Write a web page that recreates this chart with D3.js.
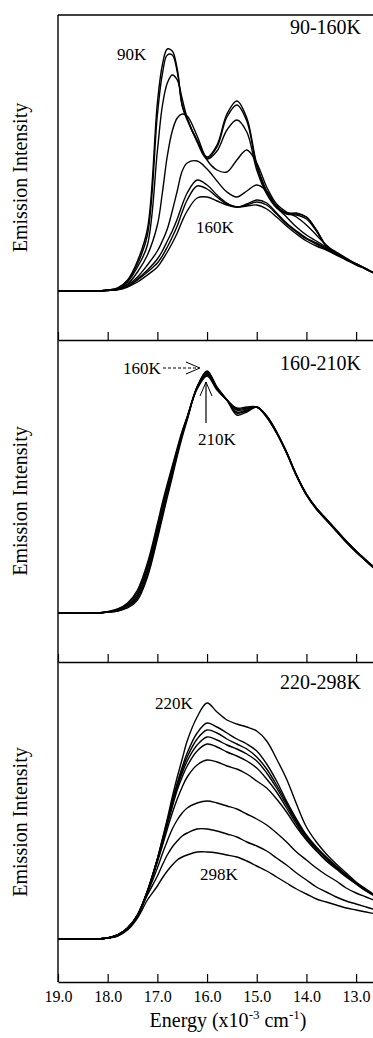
<!DOCTYPE html>
<html>
<head>
<meta charset="utf-8">
<title>Emission spectra vs temperature</title>
<script src="https://d3js.org/d3.v7.min.js"></script>
<style>
  body { margin: 0; background: #fff; }
  text { font-family: "Liberation Serif", "Times New Roman", "DejaVu Serif", serif; fill: #000; }
</style>
</head>
<body>
<div id="chart"></div>
<script>
// energy grid, x10^3 cm^-1
var energy = [19.0, 18.2, 18.0, 17.8, 17.6, 17.4, 17.2, 17.0, 16.9, 16.8, 16.7, 16.6, 16.5, 16.4, 16.2, 16.0,
  15.8, 15.6, 15.4, 15.2, 15.0, 14.8, 14.6, 14.4, 14.2, 14.0, 13.8, 13.6, 13.4, 13.2, 13.0, 12.8, 12.6];
var energyTicks = [19, 18, 17, 16, 15, 14, 13];

// panel 1: 90-160K
var t90  = [0,0,1,3,11,30,62,188,226,242,240,222,186,172,151,134,146,177,190,173,127,100,85,78,78,74,61,45,39,33,27,22,17];
var t100 = [0,0,1,2.5,10,27,56,176,217,236,236,219,185,171,150,133,144,174,186,170,125,99,84,78,77,74,61,45,38,32,27,22,17];
var t110 = [0,0,0.8,2.2,9,24,46,140,185,208,216,211,192,173,149,132,140,161,171,159,121,97,83,77,76,72,60,45,38,32,27,22,17];
var t120 = [0,0,0.7,2,7,19,36,66,98,135,160,173,177,175,155,131,121,119,131,141,128,104,87,79,74,66,56,46,38,32,27,22,17];
var t130 = [0,0,0.6,1.8,6,14,26,40,50,62,80,100,120,128,130,122,110,99,94,100,106,100,84,74,64,56,50,44,38,32,27,22,17];
var t140 = [0,0,0.5,1.5,5,12,21,32,40,50,60,72,86,98,111,106,96,88,84,87,91,88,78,68,60,53,48,43,37,32,27,22,17];
var t150 = [0,0,0.5,1.4,4.5,11,19,28,35,44,54,65,79,91,105,102,94,87,84,86,89,86,77,67,59,52,47,42,37,32,27,22,17];
var t160 = [0,0,0.5,1.2,4,9,16,24,31,39,48,58,70,80,93,94,90,86,84,85,86,82,74,65,57,50,45,41,36,31,26,22,17];

// panel 2: 160-210K
var u160 = [0,0,1,2,5,13,36,74,95,116,136,157,176,193,226,242,226,213,198,201,206,196,180,160,137,118,104,93,82,71,61,52,43];
var u170 = [0,0,1,2,6,15,38,77,98,119,139,159,178,194,226,241,225,213,200,202,206,196,180,160,138,118,104,93,82,71,61,52,43];
var u180 = [0,0,1,2.5,7,17,41,80,101,122,141,161,179,195,226,240,225,213,201,203,206,197,181,161,138,119,105,94,83,72,62,52,44];
var u190 = [0,0,1,3,8,19,44,83,104,124,143,162,180,195,225,239,224,213,203,204,206,197,181,161,138,119,105,94,83,72,62,53,44];
var u200 = [0,0,1.2,3.5,9,21,47,86,107,126,145,163,181,196,225,238,224,213,204,205,206,196,180,160,137,118,104,93,82,71,61,52,43];
var u210 = [0,0,1.5,4,10,23,50,89,110,129,147,165,182,196,224,237,223,213,205,206,206,197,181,161,138,119,105,94,83,72,62,53,44];

// panel 3: 220-298K
var v220 = [0,0,1,4,11,24,48,80,100,120,142,162,180,198,222,236,227,219,215,212,208,198,180,160,135,112,97,85,75,66,57,50,43];
var v230 = [0,0,1,4,11,24,48,80,99,118,138,156,172,186,206,216,212,206,200,195,188,175,158,138,120,104,92,82,73,64,56,49,43];
var v240 = [0,0,1,4,11,24,48,80,98,117,136,154,169,182,200,209,206,200,195,190,182,170,154,136,118,103,91,81,72,64,56,49,43];
var v250 = [0,0,1,4,11,24,48,79,97,116,135,152,166,178,194,202,199,194,190,185,178,166,151,134,117,102,91,81,72,64,56,49,43];
var v260 = [0,0,1,4,11,24,47,78,96,114,132,149,162,173,188,195,192,187,183,178,171,160,147,131,115,100,89,79,71,63,55,48,42];
var v270 = [0,0,1,4,11,24,47,77,93,110,126,140,152,162,174,179,177,173,170,165,158,151,140,127,112,99,88,78,70,62,55,48,43];
var v280 = [0,0,1,4,10,24,46,71,85,98,110,119,126,131,136,138,136,133,130,125,120,114,106,97,87,79,71,64,58,51,46,42,38];
var v290 = [0,0,1,3,10,23,44,63,74,84,92,98,103,106,110,110,108,105,102,97,93,88,81,74,66,59,52,47,42,38,35,32,29];
var v298 = [0,0,1,3,9,21,39,53,61,68,74,79,82,84,87,87,86,84,82,78,73,68,62,56,50,45,40,37,34,31,29,27,25];

var panelLabels = ["90-160K", "160-210K", "220-298K"];
var panelSeries = [
  [t90, t100, t110, t120, t130, t140, t150, t160],
  [u160, u170, u180, u190, u200, u210],
  [v220, v230, v240, v250, v260, v270, v280, v290, v298]
];

var width = 373, height = 1038;
var left = 58;
var serif = '"Liberation Serif", "Times New Roman", "DejaVu Serif", serif';
// top, bottom (axis) and zero line of each panel
var panels = [
  { top: 15, bottom: 340, base: 291, labelY: 34 },
  { top: 340, bottom: 662, base: 613, labelY: 370 },
  { top: 662, bottom: 982, base: 939, labelY: 689 }
];

var svg = d3.select("#chart").append("svg")
  .attr("width", width)
  .attr("height", height);

var x = d3.scaleLinear().domain([19, 12.66]).range([left, width]);

var line = d3.line()
  .curve(d3.curveCatmullRom.alpha(0.5));

panels.forEach(function (p, i) {
  var y = d3.scaleLinear().domain([0, p.base - p.top]).range([p.base, p.top]);

  // bottom axis, ticks pointing up into the panel
  var axis = d3.axisBottom(x)
    .tickValues(energyTicks)
    .tickSizeInner(-8)
    .tickSizeOuter(0)
    .tickPadding(9)
    .tickFormat(i === 2 ? d3.format(".1f") : "");
  var ag = svg.append("g")
    .attr("transform", "translate(0," + p.bottom + ")")
    .call(axis);
  ag.select(".domain").attr("stroke", "#000").attr("stroke-width", 1.4);
  ag.selectAll(".tick line").attr("stroke", "#000").attr("stroke-width", 1.2);
  ag.selectAll(".tick text")
    .style("font-family", serif)
    .style("font-size", "16px")
    .attr("fill", "#000");

  // spectra
  panelSeries[i].forEach(function (s) {
    svg.append("path")
      .attr("d", line(energy.map(function (e, k) { return [x(e), y(s[k])]; })))
      .attr("fill", "none")
      .attr("stroke", "#000")
      .attr("stroke-width", 1.4);
  });

  // temperature range
  svg.append("text")
    .attr("x", 361)
    .attr("y", p.labelY)
    .attr("text-anchor", "end")
    .style("font-family", serif)
    .style("font-size", "20px")
    .text(panelLabels[i]);

  // y label
  svg.append("text")
    .attr("transform", "translate(27," + ((p.top + p.bottom) / 2) + ") rotate(-90)")
    .attr("text-anchor", "middle")
    .style("font-family", serif)
    .style("font-size", "20px")
    .text("Emission Intensity");
});

// frame: left and top edges
svg.append("line")
  .attr("x1", left).attr("x2", left)
  .attr("y1", panels[0].top).attr("y2", panels[2].bottom)
  .attr("stroke", "#000").attr("stroke-width", 1.4);
svg.append("line")
  .attr("x1", left).attr("x2", width)
  .attr("y1", panels[0].top).attr("y2", panels[0].top)
  .attr("stroke", "#000").attr("stroke-width", 1.4);

// curve labels
function note(txt, xx, yy) {
  svg.append("text").attr("x", xx).attr("y", yy)
    .style("font-family", serif)
    .style("font-size", "17px")
    .text(txt);
}
note("90K", 117, 60);
note("160K", 196, 233);
note("160K", 123, 374);
note("210K", 198, 445);
note("220K", 155, 709);
note("298K", 200, 880);

// arrows in the middle panel
svg.append("line")
  .attr("x1", 163).attr("x2", 199).attr("y1", 368).attr("y2", 368)
  .attr("stroke", "#000").attr("stroke-width", 1).attr("stroke-dasharray", "3,2");
svg.append("path")
  .attr("d", "M186,362L200,368L186,374")
  .attr("fill", "none").attr("stroke", "#000").attr("stroke-width", 1);
svg.append("line")
  .attr("x1", 206).attr("x2", 206).attr("y1", 423).attr("y2", 382)
  .attr("stroke", "#000").attr("stroke-width", 1.2);
svg.append("path")
  .attr("d", "M200,396L206,382L212,396")
  .attr("fill", "none").attr("stroke", "#000").attr("stroke-width", 1);

// x axis title
var title = svg.append("text")
  .attr("x", 228)
  .attr("y", 1027)
  .attr("text-anchor", "middle")
  .style("font-family", serif)
  .style("font-size", "20px");
title.append("tspan").text("Energy (x10");
title.append("tspan").attr("dy", -8).style("font-size", "13px").text("-3");
title.append("tspan").attr("dy", 8).text(" cm");
title.append("tspan").attr("dy", -8).style("font-size", "13px").text("-1");
title.append("tspan").attr("dy", 8).text(")");
</script>
</body>
</html>
